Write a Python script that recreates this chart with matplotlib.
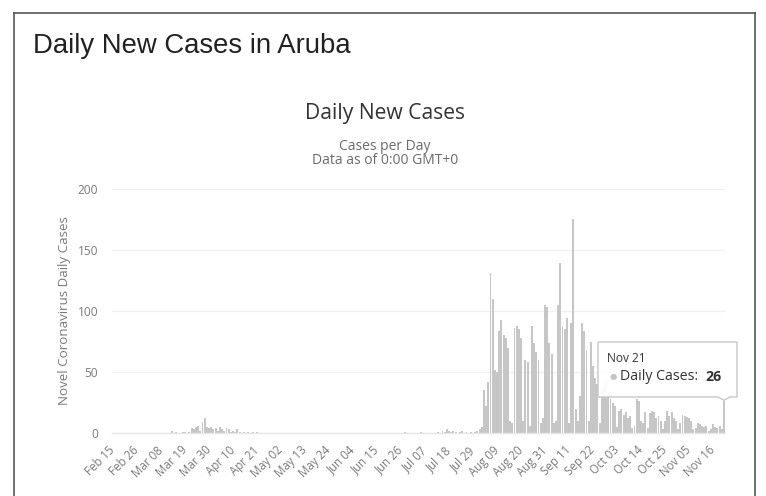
import matplotlib
matplotlib.use("Agg")
import matplotlib.pyplot as plt
from matplotlib.patches import Polygon
from matplotlib.lines import Line2D
import pandas as pd
import numpy as np

# ---------------- data ----------------
start_date = "2020-02-15"
end_date = "2020-11-21"

feb_vals = [0, 0, 0, 0, 0, 0, 0, 0, 0, 0, 0, 0, 0, 0, 0]
mar_vals = [0, 0, 0, 0, 0, 0, 0, 0, 0, 0, 0, 0, 2, 0, 1, 0, 0, 1, 1, 0,
            1, 4, 3, 5, 6, 2, 9, 12, 5, 4, 5]
apr_vals = [3, 4, 2, 5, 3, 2, 4, 3, 1, 2, 1, 3, 1, 0, 1, 0, 1, 0, 1, 0,
            1, 0, 0, 0, 0, 0, 0, 0, 0, 0]
may_vals = [0, 0, 0, 0, 0, 0, 0, 0, 0, 0, 0, 0, 0, 0, 0, 0, 0, 0, 0, 0,
            0, 0, 0, 0, 0, 0, 0, 0, 0, 0, 0]
jun_vals = [0, 0, 0, 0, 0, 0, 0, 0, 0, 0, 0, 0, 0, 0, 0, 0, 0, 0, 0, 0,
            0, 0, 0, 0, 0, 0, 0, 1, 0, 0]
jul_vals = [0, 0, 0, 0, 1, 0, 0, 0, 0, 0, 0, 0, 1, 0, 2, 1, 3, 2, 1, 2,
            1, 0, 1, 2, 0, 1, 0, 1, 0, 1, 2]
aug_vals = [3, 5, 35, 22, 42, 131, 110, 52, 50, 84, 93, 80, 78, 70, 10, 8,
            86, 88, 85, 78, 10, 60, 58, 6, 88, 74, 66, 60, 8, 12, 105]
sep_vals = [103, 74, 65, 8, 10, 105, 139, 88, 85, 94, 8, 90, 175, 20, 10,
            30, 90, 84, 68, 10, 75, 55, 45, 40, 8, 35, 38, 42, 30, 28]
oct_vals = [25, 22, 5, 18, 20, 15, 17, 12, 14, 4, 6, 28, 26, 10, 8, 17, 4,
            16, 18, 17, 12, 14, 10, 3, 10, 18, 14, 17, 12, 10, 3]
nov_vals = [8, 15, 14, 13, 12, 10, 3, 4, 8, 7, 6, 5, 6, 2, 3, 7, 5, 4, 6,
            3, 26]

y_ticks = [0, 50, 100, 150, 200]
tooltip_date = "Nov 21"
tooltip_value = 26

values = (feb_vals + mar_vals + apr_vals + may_vals + jun_vals + jul_vals
          + aug_vals + sep_vals + oct_vals + nov_vals)
dates = pd.date_range(start_date, end_date, freq="D")
assert len(dates) == len(values)
tick_idx = list(range(0, len(dates), 11))
tick_labels = [dates[i].strftime("%b %d") for i in tick_idx]

# ---------------- figure ----------------
W, H = 766, 496
fig = plt.figure(figsize=(W / 100, H / 100), dpi=100)
fig.patch.set_facecolor("white")


def fx(x):
    return x / W


def fy(y):
    return 1 - y / H


plot_l, plot_r, plot_t, plot_b = 112, 725, 189, 433
ax = fig.add_axes([fx(plot_l), fy(plot_b), (plot_r - plot_l) / W, (plot_b - plot_t) / H])
ax.set_facecolor("white")

x = np.arange(len(values))
ax.bar(x, values, width=0.88, color="#c6c6c6", linewidth=0, zorder=2)
ax.set_xlim(-0.5, len(values) - 0.5)
ax.set_ylim(0, 200)

for s in ["top", "right", "left"]:
    ax.spines[s].set_visible(False)
ax.spines["bottom"].set_color("#e6e6e6")
ax.spines["bottom"].set_linewidth(1.0)

grey = "#7a7a7a"
ax.set_yticks(y_ticks)
ax.set_yticklabels([str(v) for v in y_ticks], fontsize=8.6, color=grey,
                   family="Open Sans")
ax.tick_params(axis="y", length=0, pad=10)
ax.grid(axis="y", color="#f0f0f0", linewidth=1.0, zorder=0)
ax.set_axisbelow(True)

ax.set_xticks(tick_idx)
ax.set_xticklabels(tick_labels, rotation=45, ha="right", va="center",
                   rotation_mode="anchor", fontsize=8.3, color=grey,
                   family="Open Sans")
ax.tick_params(axis="x", length=0, pad=11)

ax.set_ylabel("Novel Coronavirus Daily Cases", fontsize=9.6, color=grey,
              family="Open Sans", labelpad=5)

# ---------------- titles ----------------
fig.text(fx(33), fy(46), "Daily New Cases in Aruba", fontsize=19.8,
         family="Liberation Sans", color="#222222", ha="left", va="center")
fig.text(fx(385), fy(113), "Daily New Cases", fontsize=15.2,
         family="Open Sans", color="#333333", ha="center", va="center")
fig.text(fx(385), fy(146), "Cases per Day", fontsize=10.0,
         family="Open Sans", color="#6a6a6a", ha="center", va="center")
fig.text(fx(385), fy(161), "Data as of 0:00 GMT+0", fontsize=10.0,
         family="Open Sans", color="#6a6a6a", ha="center", va="center")

# ---------------- frame ----------------
frame_col = "#555555"
fig.add_artist(Line2D([fx(14), fx(14)], [fy(13), fy(500)], color=frame_col, lw=1.2))
fig.add_artist(Line2D([fx(14), fx(755)], [fy(13), fy(13)], color=frame_col, lw=1.2))
fig.add_artist(Line2D([fx(755), fx(755)], [fy(13), fy(500)], color=frame_col, lw=1.2))

# ---------------- tooltip ----------------
tip_disp = ax.transData.transform((len(values) - 1, tooltip_value))
tip_fig = fig.transFigure.inverted().transform(tip_disp)
tip_px_x = tip_fig[0] * W
tip_px_y = (1 - tip_fig[1]) * H
bx0, bx1, by0, by1 = 598, 737, 342, 397
pts = [(bx0, by0), (bx1, by0), (bx1, by1), (tip_px_x + 6, by1),
       (tip_px_x, tip_px_y - 1), (tip_px_x - 6, by1), (bx0, by1)]
poly = Polygon([(fx(a), fy(b)) for a, b in pts], closed=True,
               transform=fig.transFigure, facecolor=(1, 1, 1, 0.92),
               edgecolor="#c8c8c8", linewidth=1.0, zorder=10)
fig.add_artist(poly)
fig.text(fx(607), fy(359), tooltip_date, fontsize=8.6, family="Open Sans",
         color="#333333", ha="left", va="center", zorder=11)
fig.text(fx(610), fy(377), "\u25CF", fontsize=6, family="DejaVu Sans",
         color="#c4c4c4", ha="left", va="center", zorder=11)
fig.text(fx(620), fy(377), "Daily Cases: ", fontsize=10.2, family="Open Sans",
         color="#333333", ha="left", va="center", zorder=11)
fig.text(fx(705), fy(377), str(tooltip_value), fontsize=10.2, family="Open Sans",
         weight="bold", color="#333333", ha="left", va="center", zorder=11)

fig.savefig("out.png", dpi=100, facecolor="white")
